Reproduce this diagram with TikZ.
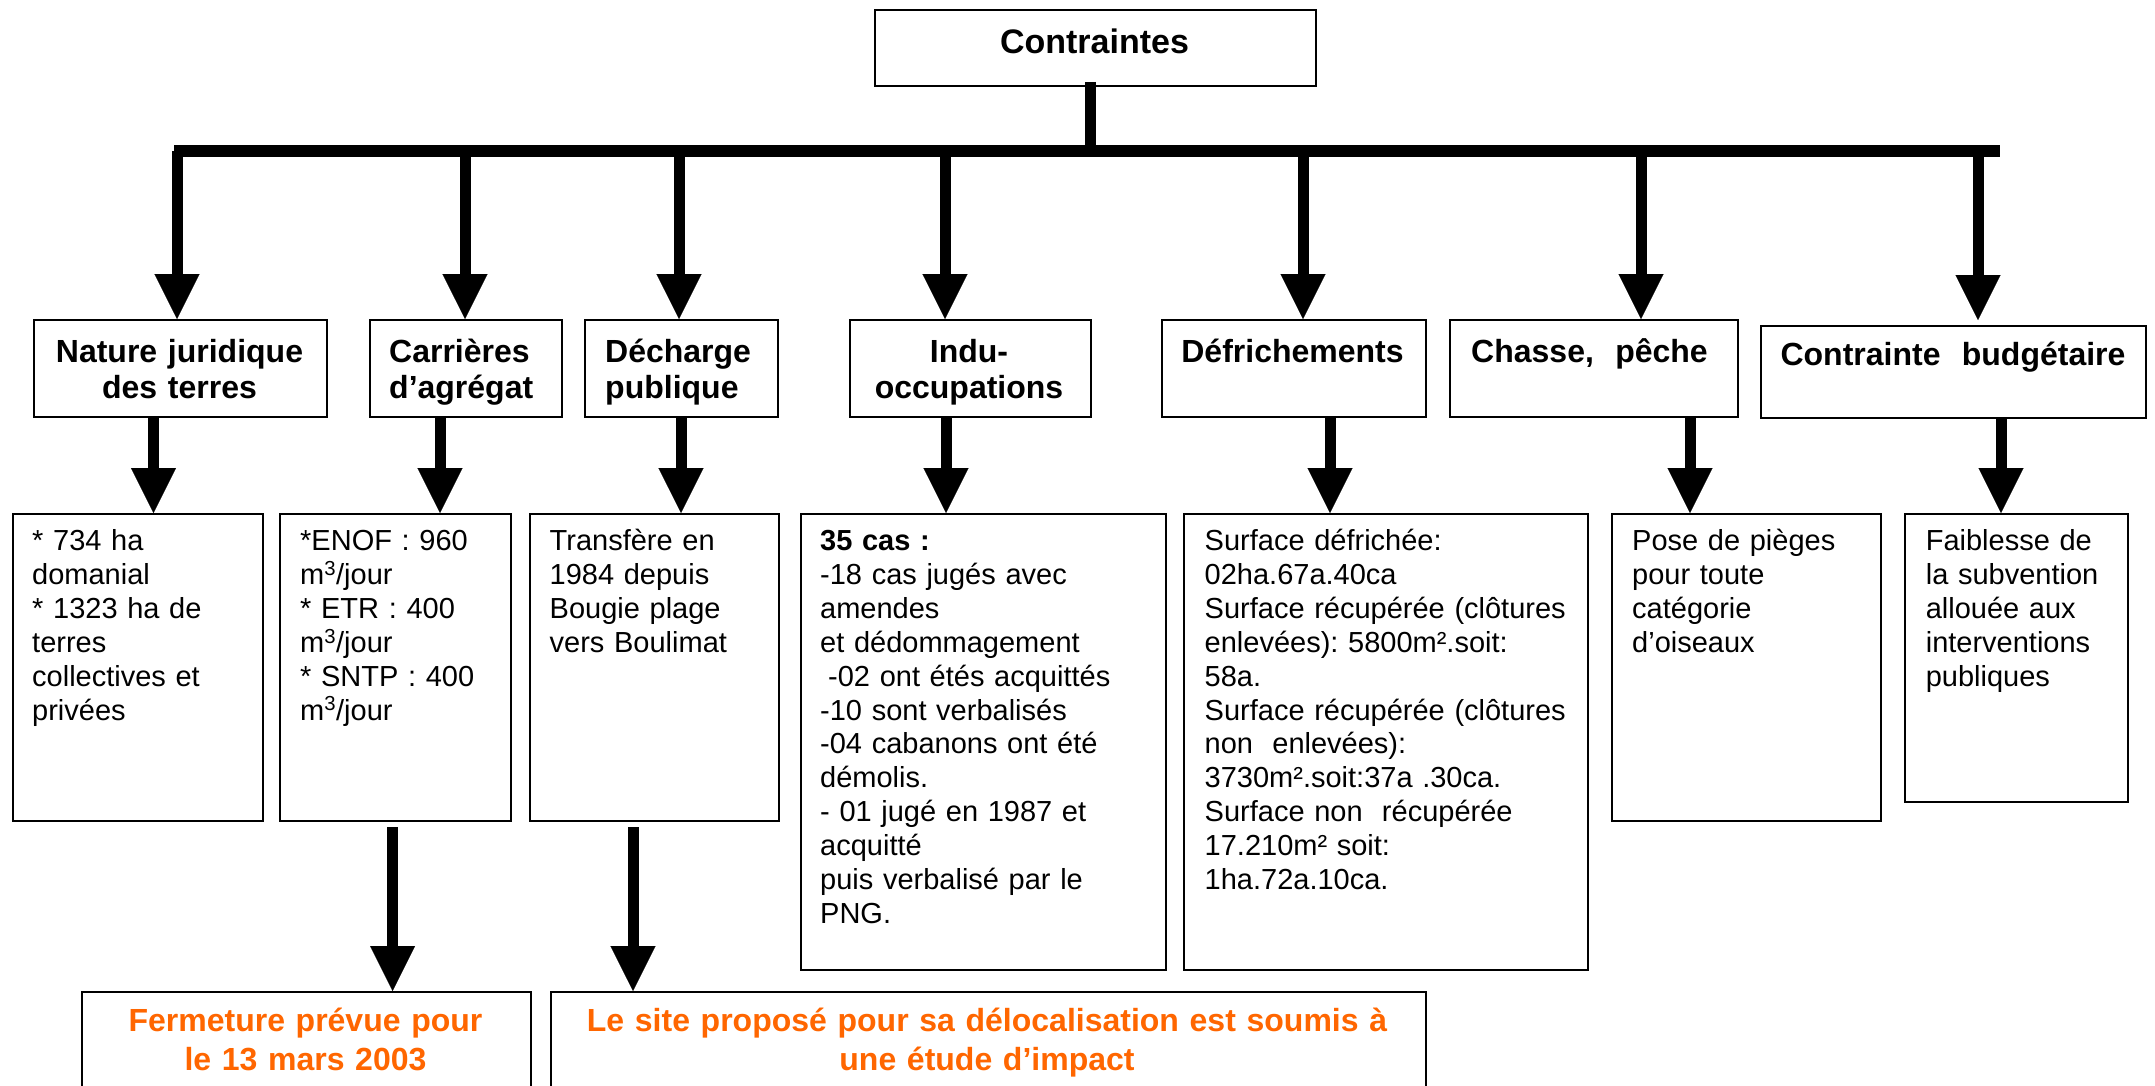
\documentclass[tikz,border=0pt]{standalone}
\usepackage{fontspec}
\setmainfont{Liberation Sans}
\usetikzlibrary{arrows.meta}
\definecolor{orng}{HTML}{FF6600}
\frenchspacing
\begin{document}
\begin{tikzpicture}[x=1pt,y=-1pt,
  bx/.style={draw, line width=2pt, inner sep=0pt, anchor=north west, rectangle},
  hd/.style={anchor=base, inner sep=0pt, text width=#1, align=center, font=\fontsize{32}{36.5}\selectfont\bfseries},
  hdl/.style={anchor=base west, inner sep=0pt, text width=#1, align=left, font=\fontsize{32}{36.5}\selectfont\bfseries},
  tx/.style={anchor=base west, inner sep=0pt, text width=#1, align=left, font=\fontsize{29}{33.9}\selectfont\frenchspacing},
  ot/.style={anchor=base, inner sep=0pt, text width=#1, align=center, text=orng, font=\fontsize{32}{38.5}\selectfont\bfseries},
  arr/.style={line width=11pt, -{Triangle[width=45pt,length=45pt,line width=0.1pt]}},
  ln/.style={line width=11pt}
]
\useasboundingbox (0,0) rectangle (2155,1086);
\clip (0,0) rectangle (2155,1086);

% top box
\node[bx, minimum width=441pt, minimum height=76pt] (n0) at (874,9) {};
\node[anchor=base, inner sep=0pt, font=\fontsize{34}{40}\selectfont\bfseries] (n0t) at (1094.5,54) {Contraintes};

% bar
\coordinate (j0) at (1090,151);
\coordinate (bl) at (174,151);
\coordinate (br) at (2000,151);
\draw[ln, shorten <=-5pt] (n0.south -| j0) -- (j0);
\draw[line width=12pt] (bl) -- (br);

% level 2 boxes
\node[bx, minimum width=293pt, minimum height=97pt] (n1) at (33,319) {};
\node[bx, minimum width=192pt, minimum height=97pt] (n2) at (369,319) {};
\node[bx, minimum width=193pt, minimum height=97pt] (n3) at (584,319) {};
\node[bx, minimum width=240.5pt, minimum height=97pt] (n4) at (849,319) {};
\node[bx, minimum width=264.4pt, minimum height=97pt] (n5) at (1160.6,319) {};
\node[bx, minimum width=288pt, minimum height=97pt] (n6) at (1449,319) {};
\node[bx, minimum width=385pt, minimum height=91.5pt] (n7) at (1760,325) {};

\node[hd=300pt] (n1t) at (179.5,362) {Nature juridique\\des terres};
\node[hdl=190pt] (n2t) at (389,362) {Carrières\\d’agrégat};
\node[hdl=190pt] (n3t) at (605,362) {Décharge\\publique};
\node[hd=240pt] (n4t) at (969,362) {Indu-\\occupations};
\node[hd=260pt] (n5t) at (1292.5,362) {Défrichements};
\node[hdl=280pt] (n6t) at (1471,362) {Chasse,\ \ pêche};
\node[hd=380pt] (n7t) at (1953,365) {Contrainte\ \ budgétaire};

% drops from bar
\coordinate (b1) at (177,151);
\coordinate (b2) at (465,151);
\coordinate (b3) at (679,151);
\coordinate (b4) at (945,151);
\coordinate (b5) at (1303,151);
\coordinate (b6) at (1641,151);
\coordinate (b7) at (1978,151);
\draw[arr] (b1) -- (b1 |- n1.north);
\draw[arr] (b2) -- (b2 |- n2.north);
\draw[arr] (b3) -- (b3 |- n3.north);
\draw[arr] (b4) -- (b4 |- n4.north);
\draw[arr] (b5) -- (b5 |- n5.north);
\draw[arr] (b6) -- (b6 |- n6.north);
\draw[arr, shorten >=5pt] (b7) -- (b7 |- n7.north);

% level 3 boxes
\node[bx, minimum width=250.5pt, minimum height=307pt] (m1) at (11.5,513) {};
\node[bx, minimum width=230.5pt, minimum height=307pt] (m2) at (279,513) {};
\node[bx, minimum width=249pt, minimum height=307pt] (m3) at (528.5,513) {};
\node[bx, minimum width=365pt, minimum height=455.5pt] (m4) at (800,513) {};
\node[bx, minimum width=404pt, minimum height=455.5pt] (m5) at (1183,513) {};
\node[bx, minimum width=269pt, minimum height=307pt] (m6) at (1611,513) {};
\node[bx, minimum width=223pt, minimum height=288pt] (m7) at (1904,513) {};

% level 2 -> 3 arrows
\coordinate (c1) at (153.5,0);
\coordinate (c2) at (440,0);
\coordinate (c3) at (681,0);
\coordinate (c4) at (946,0);
\coordinate (c5) at (1330,0);
\coordinate (c6) at (1690,0);
\coordinate (c7) at (2001,0);
\draw[arr] (n1.south -| c1) -- (m1.north -| c1);
\draw[arr] (n2.south -| c2) -- (m2.north -| c2);
\draw[arr] (n3.south -| c3) -- (m3.north -| c3);
\draw[arr] (n4.south -| c4) -- (m4.north -| c4);
\draw[arr] (n5.south -| c5) -- (m5.north -| c5);
\draw[arr] (n6.south -| c6) -- (m6.north -| c6);
\draw[arr] (n7.south -| c7) -- (m7.north -| c7);

% level 3 texts
\node[tx=225pt] (m1t) at (32,550.5) {* 734 ha\\domanial\\{}* 1323 ha de\\terres\\collectives et\\privées};
\node[tx=205pt] (m2t) at (300,550.5) {*ENOF : 960\\m\textsuperscript{3}/jour\\{}* ETR : 400\\m\textsuperscript{3}/jour\\{}* SNTP : 400\\m\textsuperscript{3}/jour};
\node[tx=225pt] (m3t) at (549.5,550.5) {Transfère en\\1984 depuis\\Bougie plage\\vers Boulimat};
\node[tx=340pt] (m4t) at (820,550.5) {\textbf{35 cas :}\\-18 cas jugés avec\\amendes\\et dédommagement\\\hspace*{8pt}-02 ont étés acquittés\\-10 sont verbalisés\\-04 cabanons ont été\\démolis.\\- 01 jugé en 1987 et\\acquitté\\puis verbalisé par le\\PNG.};
\node[tx=380pt] (m5t) at (1204.5,550.5) {Surface défrichée:\\02ha.67a.40ca\\Surface récupérée (clôtures\\enlevées): 5800m².soit:\\58a.\\Surface récupérée (clôtures\\non\ \ enlevées):\\3730m².soit:37a .30ca.\\Surface non\ \ récupérée\\17.210m² soit:\\1ha.72a.10ca.};
\node[tx=245pt] (m6t) at (1632,550.5) {Pose de pièges\\pour toute\\catégorie\\d’oiseaux};
\node[tx=200pt] (m7t) at (1925.6,550.5) {Faiblesse de\\la subvention\\allouée aux\\interventions\\publiques};

% level 4 boxes
\node[bx, minimum width=449pt, minimum height=115pt] (o1) at (81,991) {};
\node[bx, minimum width=875.5pt, minimum height=115pt] (o2) at (549.5,991) {};
\coordinate (d1) at (392.6,0);
\coordinate (d2) at (633,0);
\draw[arr, shorten <=5pt] (m2.south -| d1) -- (o1.north -| d1);
\draw[arr, shorten <=5pt] (m3.south -| d2) -- (o2.north -| d2);
\node[ot=440pt] (o1t) at (305.5,1031.5) {Fermeture prévue pour\\le 13 mars 2003};
\node[ot=860pt] (o2t) at (987,1031.5) {Le site proposé pour sa délocalisation est soumis à\\une étude d’impact};
\end{tikzpicture}
\end{document}
